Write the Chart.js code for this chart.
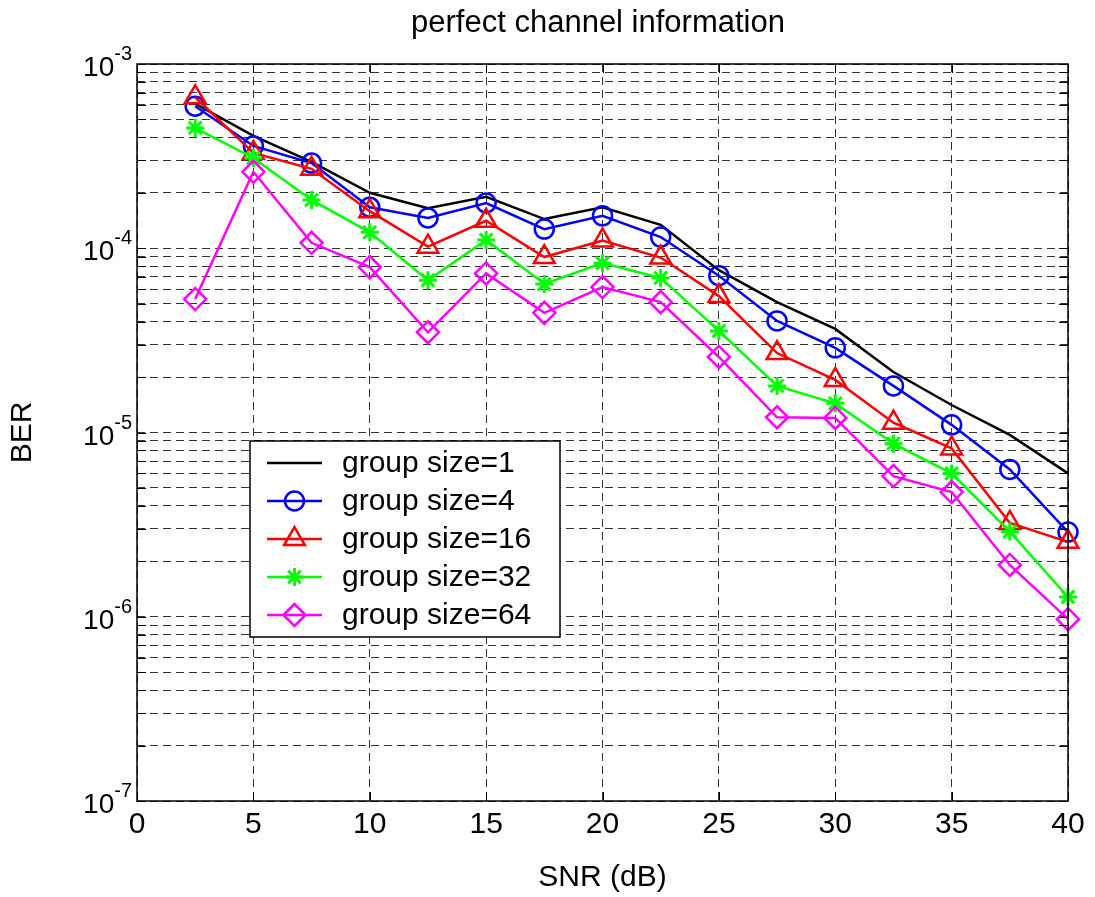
<!DOCTYPE html>
<html>
<head>
<meta charset="utf-8">
<title>perfect channel information</title>
<script src="https://cdn.jsdelivr.net/npm/chart.js@4.4.0/dist/chart.umd.min.js"></script>
<style>
  html, body { margin: 0; padding: 0; background: #fff; }
  #wrap { width: 1095px; height: 897px; }
</style>
</head>
<body>
<div id="wrap"><canvas id="berChart" width="1095" height="897"></canvas></div>
<script>
// values
const snr = [2.5, 5, 7.5, 10, 12.5, 15, 17.5, 20, 22.5, 25, 27.5, 30, 32.5, 35, 37.5, 40];
const berGroup1  = [6.1e-4, 4.07e-4, 2.94e-4, 2.0e-4, 1.65e-4, 1.9e-4, 1.44e-4, 1.67e-4, 1.34e-4, 7.6e-5, 5.1e-5, 3.65e-5, 2.13e-5, 1.41e-5, 9.7e-6, 6.0e-6];
const berGroup4  = [5.9e-4, 3.59e-4, 2.9e-4, 1.67e-4, 1.46e-4, 1.76e-4, 1.27e-4, 1.5e-4, 1.15e-4, 7.1e-5, 4.03e-5, 2.88e-5, 1.79e-5, 1.1e-5, 6.3e-6, 2.88e-6];
const berGroup16 = [6.6e-4, 3.29e-4, 2.7e-4, 1.59e-4, 1.02e-4, 1.41e-4, 8.96e-5, 1.1e-4, 8.9e-5, 5.5e-5, 2.7e-5, 1.93e-5, 1.13e-5, 8.2e-6, 3.23e-6, 2.55e-6];
const berGroup32 = [4.5e-4, 3.09e-4, 1.83e-4, 1.22e-4, 6.7e-5, 1.11e-4, 6.4e-5, 8.3e-5, 6.9e-5, 3.56e-5, 1.79e-5, 1.44e-5, 8.7e-6, 6.0e-6, 2.9e-6, 1.28e-6];
const berGroup64 = [5.3e-5, 2.6e-4, 1.07e-4, 7.9e-5, 3.5e-5, 7.3e-5, 4.46e-5, 6.16e-5, 5.1e-5, 2.57e-5, 1.21e-5, 1.2e-5, 5.8e-6, 4.75e-6, 1.91e-6, 9.7e-7];

const seriesLabels = ['group size=1', 'group size=4', 'group size=16', 'group size=32', 'group size=64'];
const xTicks = [0, 5, 10, 15, 20, 25, 30, 35, 40];
const yDecades = [1e-7, 1e-6, 1e-5, 1e-4, 1e-3];

const FONT = '"Liberation Sans", Arial, Helvetica, sans-serif';

// grid lines at 1..9 x 10^n
const yGrid = [];
yDecades.forEach(function (d, i) {
     const last = i === yDecades.length - 1;
     for (let m = 1; m <= (last ? 1 : 9); m++) yGrid.push(m * d);
});

function pts(ys) {
     return snr.map(function (x, i) { return { x: x, y: ys[i] }; });
}

const styles = [
     { color: '#000000', pointStyle: false, radius: 0 },
     { color: '#0000ff', pointStyle: 'circle', radius: 9.5 },
     { color: '#ff0000', pointStyle: 'triangle', radius: 12 },
     { color: '#00ff00', pointStyle: 'star', radius: 9 },
     { color: '#ff00ff', pointStyle: 'rectRot', radius: 11 }
];
const seriesData = [berGroup1, berGroup4, berGroup16, berGroup32, berGroup64];

const datasets = seriesData.map(function (ys, i) {
     const s = styles[i];
     return {
          label: seriesLabels[i],
          data: pts(ys),
          borderColor: s.color,
          backgroundColor: 'rgba(0,0,0,0)',
          borderWidth: 2.5,
          pointStyle: s.pointStyle,
          pointRadius: s.radius,
          pointHoverRadius: s.radius,
          pointBorderWidth: s.pointStyle === 'star' ? 3 : 2.5,
          pointBorderColor: s.color,
          pointBackgroundColor: 'rgba(0,0,0,0)',
          tension: 0,
          clip: false,
          order: seriesData.length - i
     };
});

// title, y labels with exponents, box, inside ticks and the legend
const matlabLook = {
     id: 'matlabLook',
     afterDraw: function (chart) {
          const ctx = chart.ctx;
          const area = chart.chartArea;
          const xs = chart.scales.x;
          const ys = chart.scales.y;

          ctx.save();
          ctx.fillStyle = '#000';
          ctx.font = '31px ' + FONT;
          ctx.textAlign = 'center';
          ctx.textBaseline = 'alphabetic';
          ctx.fillText('perfect channel information', 598, 32);

          // y tick labels 10^n
          yDecades.forEach(function (v) {
               const py = ys.getPixelForValue(v);
               const exp = String(Math.round(Math.log10(v)));
               ctx.textAlign = 'right';
               ctx.font = '20px ' + FONT;
               const w = ctx.measureText(exp).width;
               ctx.fillText(exp, area.left - 5, py - 4);
               ctx.font = '28px ' + FONT;
               ctx.fillText('10', area.left - 5 - w, py + 12);
          });

          // box
          ctx.strokeStyle = '#000';
          ctx.lineWidth = 1.5;
          ctx.setLineDash([]);
          ctx.strokeRect(area.left, area.top, area.right - area.left, area.bottom - area.top);

          // inside tick marks
          ctx.lineWidth = 1;
          ctx.beginPath();
          yGrid.forEach(function (v) {
               const py = Math.round(ys.getPixelForValue(v)) + 0.5;
               ctx.moveTo(area.left, py); ctx.lineTo(area.left + 9, py);
               ctx.moveTo(area.right, py); ctx.lineTo(area.right - 9, py);
          });
          xTicks.forEach(function (v) {
               const px = Math.round(xs.getPixelForValue(v)) + 0.5;
               ctx.moveTo(px, area.bottom); ctx.lineTo(px, area.bottom - 9);
               ctx.moveTo(px, area.top); ctx.lineTo(px, area.top + 9);
          });
          ctx.stroke();

          // legend
          const lx = 250, ly = 441, lw = 310, lh = 196, rowGap = 38;
          ctx.fillStyle = '#fff';
          ctx.fillRect(lx, ly, lw, lh);
          ctx.lineWidth = 1.5;
          ctx.strokeStyle = '#000';
          ctx.strokeRect(lx, ly, lw, lh);
          chart.data.datasets.forEach(function (ds, i) {
               const cy = ly + 22 + i * rowGap;
               ctx.strokeStyle = ds.borderColor;
               ctx.lineWidth = ds.borderWidth;
               ctx.beginPath();
               ctx.moveTo(lx + 17, cy);
               ctx.lineTo(lx + 72, cy);
               ctx.stroke();
               if (ds.pointStyle && Chart.helpers && Chart.helpers.drawPoint) {
                    ctx.fillStyle = 'rgba(0,0,0,0)';
                    ctx.lineWidth = ds.pointBorderWidth;
                    Chart.helpers.drawPoint(ctx, {
                         pointStyle: ds.pointStyle,
                         radius: ds.pointRadius,
                         rotation: 0,
                         borderWidth: ds.pointBorderWidth
                    }, lx + 44.5, cy);
               }
               ctx.fillStyle = '#000';
               ctx.font = '30px ' + FONT;
               ctx.textAlign = 'left';
               ctx.textBaseline = 'middle';
               ctx.fillText(ds.label, lx + 92, cy + 1);
          });
          ctx.restore();
     }
};

new Chart(document.getElementById('berChart').getContext('2d'), {
     type: 'line',
     data: { datasets: datasets },
     options: {
          responsive: false,
          animation: false,
          devicePixelRatio: 1,
          layout: { padding: { top: 64, right: 27, left: 0, bottom: 0 } },
          plugins: {
               legend: { display: false },
               title: { display: false },
               tooltip: { enabled: false }
          },
          scales: {
               x: {
                    type: 'linear',
                    min: 0,
                    max: 40,
                    afterBuildTicks: function (scale) {
                         scale.ticks = xTicks.map(function (v) { return { value: v }; });
                    },
                    afterFit: function (scale) { scale.height = 96; },
                    grid: { color: 'rgba(0,0,0,0.8)', lineWidth: 1, drawTicks: false },
                    border: { display: false, dash: [8, 5] },
                    ticks: {
                         color: '#000',
                         font: { family: FONT, size: 30 },
                         padding: 6,
                         maxRotation: 0
                    },
                    title: {
                         display: true,
                         text: 'SNR (dB)',
                         color: '#000',
                         font: { family: FONT, size: 30, lineHeight: 1 },
                         padding: { top: 0, bottom: 4 }
                    }
               },
               y: {
                    type: 'logarithmic',
                    min: 1e-7,
                    max: 1e-3,
                    afterBuildTicks: function (scale) {
                         scale.ticks = yGrid.map(function (v) { return { value: v }; });
                    },
                    afterFit: function (scale) { scale.width = 137; },
                    grid: { color: 'rgba(0,0,0,0.8)', lineWidth: 1, drawTicks: false },
                    border: { display: false, dash: [8, 5] },
                    ticks: { display: false },
                    title: {
                         display: true,
                         text: 'BER',
                         color: '#000',
                         font: { family: FONT, size: 30, lineHeight: 1 },
                         padding: { top: 8, bottom: 0 }
                    }
               }
          }
     },
     plugins: [matlabLook]
});
</script>
</body>
</html>
